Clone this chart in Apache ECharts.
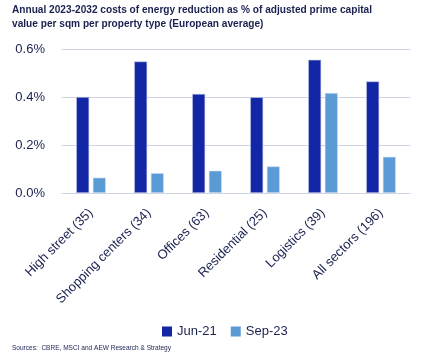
<!DOCTYPE html>
<html><head><meta charset="utf-8">
<script src="https://cdn.jsdelivr.net/npm/echarts@6/dist/echarts.min.js"></script>
<style>html,body{margin:0;padding:0;background:#fff}#c{width:422px;height:361px}</style>
</head><body><div id="c"></div>
<script>
const categories = ["High street (35)", "Shopping centers (34)", "Offices (63)", "Residential (25)", "Logistics (39)", "All sectors (196)"];
const jun21 = [0.40, 0.548, 0.413, 0.399, 0.555, 0.465];
const sep23 = [0.064, 0.083, 0.093, 0.111, 0.417, 0.151];
const yTicks = [0, 0.2, 0.4, 0.6];
const titleLines = ['Annual 2023-2032 costs of energy reduction as % of adjusted prime capital', 'value per sqm per property type (European average)'];
const sourceText = 'Sources:  CBRE, MSCI and AEW Research & Strategy';
const FONT = '"Liberation Sans", Arial, sans-serif';

function measure(text, font) {
  const cv = document.createElement('canvas').getContext('2d');
  cv.font = font;
  return cv.measureText(text).width;
}
const titleFont = 'bold 11.5px ' + FONT;
const titleScale = 360 / measure(titleLines[0], titleFont);
const srcFont = '8px ' + FONT;
const srcScale = 159 / measure(sourceText, srcFont);

const chart = echarts.init(document.getElementById('c'), null, {renderer: 'canvas'});
chart.setOption({
  animation: false,
  textStyle: {fontFamily: FONT},
  graphic: [
    {type: 'text', x: 12, y: 4, scaleX: titleScale,
     style: {text: titleLines[0], font: titleFont, fill: '#1b2150'}},
    {type: 'text', x: 12, y: 18, scaleX: titleScale,
     style: {text: titleLines[1], font: titleFont, fill: '#1b2150'}},
    {type: 'text', x: 12, y: 344, scaleX: srcScale,
     style: {text: sourceText, font: srcFont, fill: '#1b2150'}}
  ],
  legend: {
    top: 320, left: 157,
    itemWidth: 10, itemHeight: 10, itemGap: 14,
    icon: 'rect',
    itemStyle: {borderWidth: 0},
    textStyle: {fontFamily: FONT, fontSize: 13, color: '#1b2150'},
    data: ['Jun-21', 'Sep-23']
  },
  grid: {left: 62, right: 12, top: 49, bottom: 168},
  xAxis: {
    type: 'category', data: categories,
    axisTick: {show: false},
    axisLine: {lineStyle: {color: '#d0d4e4', width: 1}},
    axisLabel: {rotate: 45, interval: 0, fontSize: 13, color: '#1b2150', fontFamily: FONT, margin: 18}
  },
  yAxis: {
    type: 'value', min: yTicks[0], max: yTicks[yTicks.length - 1], interval: 0.2,
    axisLine: {show: false}, axisTick: {show: false},
    splitLine: {lineStyle: {color: '#d0d4e4', width: 1}},
    axisLabel: {fontSize: 13, color: '#1b2150', fontFamily: FONT, margin: 17,
      formatter: v => v.toFixed(1) + '%'}
  },
  series: [
    {name: 'Jun-21', type: 'bar', data: jun21, barWidth: 13, barGap: '28%',
     itemStyle: {color: '#1226a6', borderColor: '#c8cce8', borderWidth: 0.6}},
    {name: 'Sep-23', type: 'bar', data: sep23, barWidth: 13,
     itemStyle: {color: '#5b9bd5', borderColor: '#d6e4f4', borderWidth: 0.6}}
  ]
});
</script></body></html>
